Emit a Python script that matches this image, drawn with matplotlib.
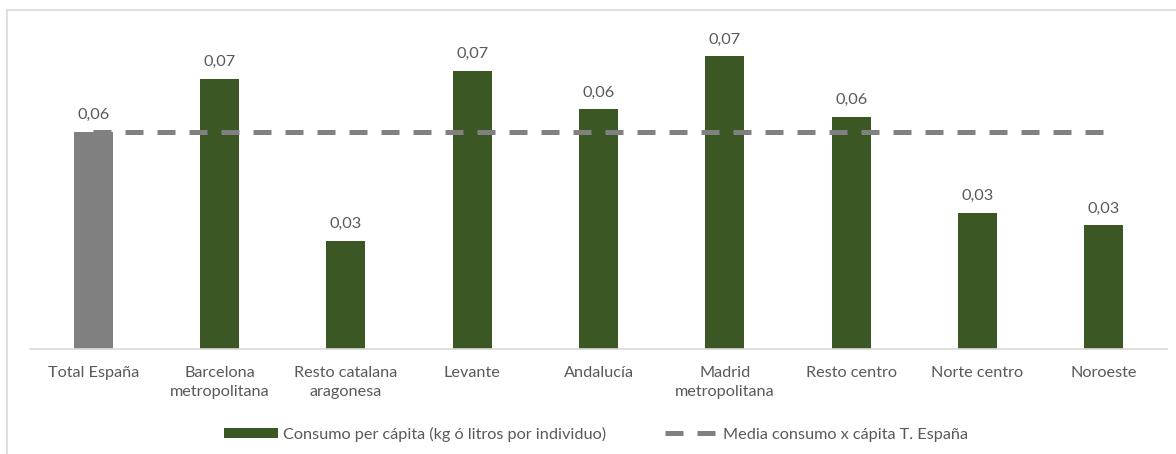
import matplotlib.pyplot as plt
from matplotlib.patches import Rectangle, Patch
from matplotlib.lines import Line2D

# data
categorias = ["Total España", "Barcelona\nmetropolitana", "Resto catalana\naragonesa",
              "Levante", "Andalucía", "Madrid\nmetropolitana", "Resto centro",
              "Norte centro", "Noroeste"]
consumo = [0.0555, 0.0690, 0.0276, 0.0710, 0.0612, 0.0747, 0.0592, 0.0348, 0.0316]
media_espana = 0.0555

verde = "#3B5724"
gris = "#808080"
texto = "#595959"
fs = 11.7

plt.rcParams["font.family"] = ["Lato", "DejaVu Sans"]

fig = plt.figure(figsize=(11.76, 4.54), dpi=100)
ax = fig.add_axes([30 / 1176, 1 - 349 / 454, (1167 - 30) / 1176, (349 - 35.5) / 454])

# chart frame
fig.patches.append(Rectangle((7 / 1176, -0.05), 1.1, 1 - 10 / 454 + 0.05,
                             transform=fig.transFigure, fill=False,
                             edgecolor="#D9D9D9", linewidth=1.2))

x = list(range(len(categorias)))
colores = [gris] + [verde] * (len(categorias) - 1)
ax.bar(x, consumo, width=0.31, color=colores, zorder=2)

ax.plot(x, [media_espana] * len(x), color=gris, linewidth=3.6,
        dashes=(3.6, 2.8), zorder=3)

for xi, v in zip(x, consumo):
    ax.annotate(f"{v:.2f}".replace(".", ","), (xi, v), xytext=(0, 7),
                textcoords="offset points", ha="center", va="bottom",
                fontsize=fs, color=texto)

ax.set_xlim(-0.5, len(categorias) - 0.5)
ax.set_ylim(0, 0.08)
ax.set_xticks(x)
ax.set_xticklabels(categorias, fontsize=fs, color=texto, linespacing=1.45)
ax.tick_params(axis="x", length=0, pad=12)
ax.set_yticks([])
for s in ["top", "right", "left"]:
    ax.spines[s].set_visible(False)
ax.spines["bottom"].set_color("#D9D9D9")
ax.spines["bottom"].set_linewidth(1.2)

handles = [Patch(facecolor=verde, edgecolor="none"),
           Line2D([0], [0], color=gris, linewidth=3.6, dashes=(3.6, 2.8))]
labels = ["Consumo per cápita (kg ó litros por individuo)",
          "Media consumo x cápita T. España"]
leg = fig.legend(handles, labels, loc="center", bbox_to_anchor=(0.507, 1 - 434 / 454),
                 ncol=2, frameon=False, fontsize=fs, handlelength=3.3,
                 handleheight=0.6, columnspacing=3.6, handletextpad=0.3)
for t in leg.get_texts():
    t.set_color(texto)

fig.savefig("out.png", dpi=100)
